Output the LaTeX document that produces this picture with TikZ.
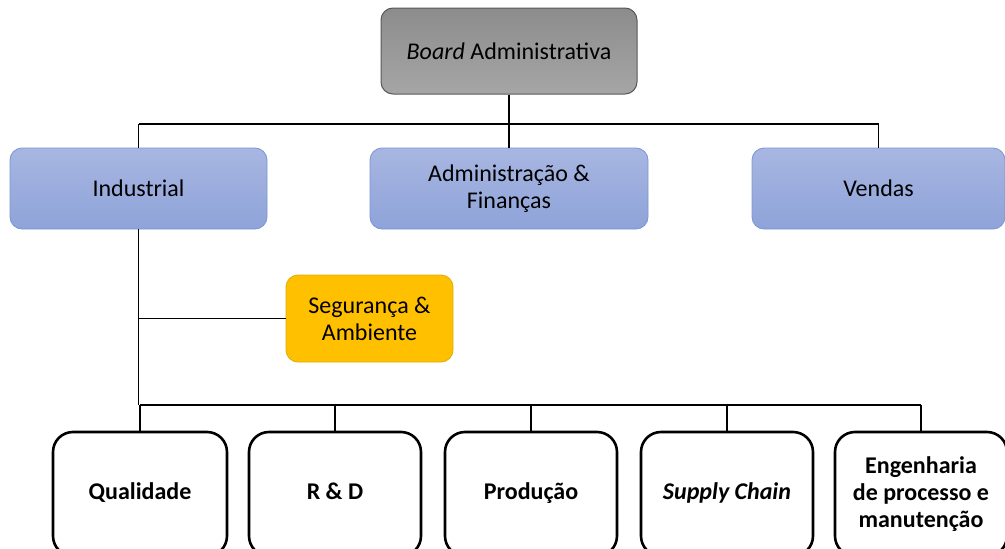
\documentclass[tikz,border=0pt]{standalone}
\usepackage{fontspec}
\setmainfont{Carlito}
\begin{document}
\begin{tikzpicture}[x=1pt,y=-1pt,
  txt/.style={font=\fontsize{24}{27}\selectfont, align=center, text=black, inner sep=0pt},
  board/.style={txt, draw=black!65, line width=1pt, rounded corners=12pt,
    top color=black!45, bottom color=black!35},
  dept/.style={txt, draw={rgb,255:red,122;green,149;blue,211}, line width=0.8pt, rounded corners=12pt,
    top color={rgb,255:red,168;green,182;blue,225}, bottom color={rgb,255:red,142;green,163;blue,217},
    minimum height=81pt},
  safety/.style={txt, draw={rgb,255:red,225;green,170;blue,0}, line width=0.8pt, rounded corners=12pt,
    fill={rgb,255:red,255;green,192;blue,0}},
  unit/.style={txt, font=\fontsize{24}{27}\selectfont\bfseries, draw=black, line width=2.6pt,
    rounded corners=20pt, fill=white, minimum width=172pt, minimum height=124pt},
  link/.style={draw=black, line width=1.8pt}
]
\useasboundingbox (0,0) rectangle (1005,549);
\clip (0,0) rectangle (1005,549);

% top level
\node[board, minimum width=256pt, minimum height=86pt] (board) at (509,51) {\textit{Board} Administrativa};

% departments
\node[dept, minimum width=257pt] (ind) at (138.5,188.5) {Industrial};
\node[dept, minimum width=278pt] (adm) at (509,188.5) {Administração \&\\Finanças};
\node[dept, minimum width=253pt] (ven) at (878.5,188.5) {Vendas};

% staff unit
\node[safety, minimum width=167pt, minimum height=87pt] (seg) at (369.5,318.5) {Segurança \&\\Ambiente};

% industrial units (struts keep single-line labels on one baseline)
\node[unit, minimum width=174pt] (qua) at (140,494) {\strut Qualidade};
\node[unit] (rd)  at (335,494) {\strut R \& D};
\node[unit] (pro) at (531,494) {\strut Produção};
\node[unit] (sup) at (727,494) {\strut\textit{Supply Chain}};
\node[unit] (eng) at (921,494) {Engenharia\\de processo e\\manutenção};

% bus lines
\coordinate (bustop) at (0,124);
\coordinate (busbot) at (0,405);

\draw[link] (board.south) -- (board.south |- bustop);
\draw[link] (ind.north |- bustop) -- (ven.north |- bustop);
\foreach \n in {ind,adm,ven} \draw[link] (\n.north |- bustop) -- (\n.north);

\draw[link] (ind.south) -- (ind.south |- busbot);
\draw[link] (ind.south |- seg.west) -- (seg.west);
\draw[link] (qua.north |- busbot) -- (eng.north |- busbot);
\foreach \n in {qua,rd,pro,sup,eng} \draw[link] (\n.north |- busbot) -- (\n.north);
\end{tikzpicture}
\end{document}
